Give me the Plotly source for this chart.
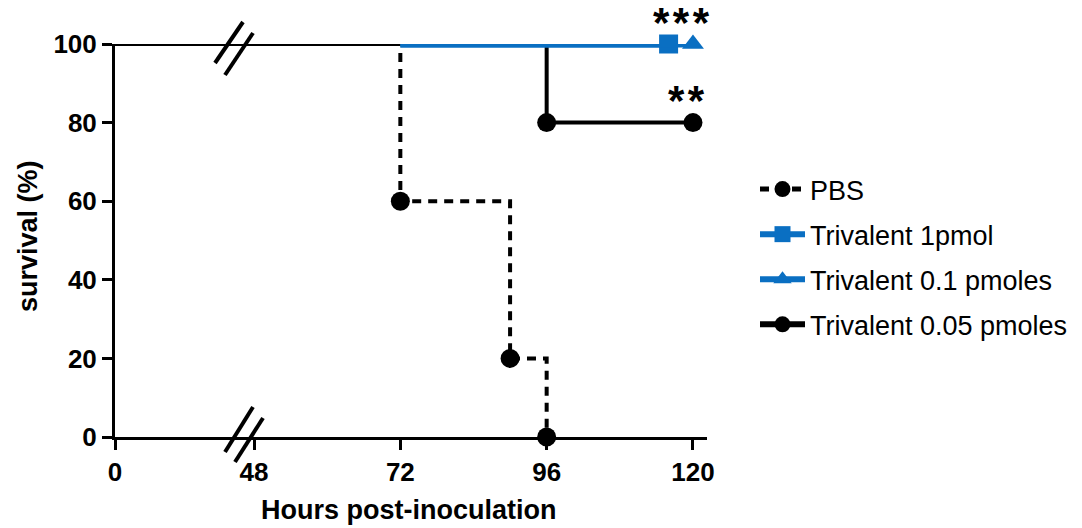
import plotly.graph_objects as go

# ---------------- data ----------------
pbs_t = [0, 72, 72, 90, 90, 96, 96]
pbs_s = [100, 100, 60, 60, 20, 20, 0]
pbs_mt = [72, 90, 96]
pbs_ms = [60, 20, 0]

tri005_t = [0, 96, 96, 120]
tri005_s = [100, 100, 80, 80]
tri005_mt = [96, 120]
tri005_ms = [80, 80]

tri1_t = [72, 116]
tri1_s = [100, 100]
tri1_mt = [116]
tri1_ms = [100]

tri01_t = [72, 120]
tri01_s = [100, 100]
tri01_mt = [120]
tri01_ms = [100]

x_left_ticks = [0]
x_right_ticks = [48, 72, 96, 120]
y_ticks = [0, 20, 40, 60, 80, 100]

BLUE = "#0a6fc2"
BLACK = "#000000"
FONT = "Liberation Sans, Arial, sans-serif"

# ---------------- geometry helpers (pixels -> paper) ----------------
W, H = 1082, 528
L, R, T, B = 115, 707, 44, 437


def px(xp):
    return (xp - L) / (R - L)


def py(yp):
    return (B - yp) / (B - T)


split = px(240)

series = [
    dict(name="PBS", t=pbs_t, s=pbs_s, mt=pbs_mt, ms=pbs_ms, color=BLACK,
         width=4, dash="9px,7px", symbol="circle", lw=5),
    dict(name="Trivalent 0.05 pmoles", t=tri005_t, s=tri005_s, mt=tri005_mt,
         ms=tri005_ms, color=BLACK, width=4, dash="solid", symbol="circle", lw=6),
    dict(name="Trivalent 1pmol", t=tri1_t, s=tri1_s, mt=tri1_mt, ms=tri1_ms,
         color=BLUE, width=7, dash="solid", symbol="square", lw=6),
    dict(name="Trivalent 0.1 pmoles", t=tri01_t, s=tri01_s, mt=tri01_mt,
         ms=tri01_ms, color=BLUE, width=7, dash="solid", symbol="triangle-up", lw=6),
]

fig = go.Figure()

for sr in series:
    for xa in ("x", "x2"):
        fig.add_trace(go.Scatter(
            x=sr["t"], y=sr["s"], xaxis=xa, yaxis="y", mode="lines",
            line=dict(color=sr["color"], width=sr["width"], dash=sr["dash"]),
            showlegend=False, hoverinfo="skip"))
    fig.add_trace(go.Scatter(
        x=sr["mt"], y=sr["ms"], xaxis="x2", yaxis="y", mode="markers",
        marker=dict(color=sr["color"], size=19, symbol=sr["symbol"],
                    line=dict(width=0)),
        cliponaxis=False, showlegend=False, hoverinfo="skip"))

legend_order = ["PBS", "Trivalent 1pmol", "Trivalent 0.1 pmoles", "Trivalent 0.05 pmoles"]
for i, nm in enumerate(legend_order):
    sr = [s for s in series if s["name"] == nm][0]
    fig.add_trace(go.Scatter(
        x=[None], y=[None], xaxis="x2", yaxis="y", mode="lines+markers",
        name=nm, legendgroup=f"g{i}",
        line=dict(color=sr["color"], width=sr["lw"], dash=sr["dash"]),
        marker=dict(color=sr["color"], size=16, symbol=sr["symbol"])))

axis_common = dict(showline=True, linecolor=BLACK, linewidth=3, ticks="outside",
                   ticklen=10, tickwidth=3, tickcolor=BLACK, showgrid=False,
                   zeroline=False,
                   tickfont=dict(family=FONT, size=26, color=BLACK, weight="bold"),
                   fixedrange=True)

fig.update_layout(
    width=W, height=H,
    margin=dict(l=L, r=W - R, t=T, b=H - B, autoexpand=False),
    paper_bgcolor="white", plot_bgcolor="white",
    xaxis=dict(domain=[0, split], range=[0, 20.5], tickvals=x_left_ticks,
               anchor="y", **axis_common),
    xaxis2=dict(domain=[split, 1], range=[45.7, 122.3], tickvals=x_right_ticks,
                anchor="y", **axis_common),
    yaxis=dict(range=[0, 100], tickvals=y_ticks, anchor="x", **axis_common),
    showlegend=True,
    legend=dict(x=px(755), y=py(165), xanchor="left", yanchor="top",
                font=dict(family=FONT, size=27, color=BLACK),
                tracegroupgap=7, bgcolor="rgba(0,0,0,0)", itemwidth=45),
    font=dict(family=FONT, color=BLACK),
)

# axis titles
fig.add_annotation(text="<b>Hours post-inoculation</b>", xref="paper", yref="paper",
                   x=px(408), y=py(510), xanchor="center", yanchor="middle",
                   showarrow=False, font=dict(family=FONT, size=27, color=BLACK))
fig.add_annotation(text="<b>survival (%)</b>", xref="paper", yref="paper",
                   x=px(28), y=py(236), xanchor="center", yanchor="middle",
                   textangle=-90, showarrow=False,
                   font=dict(family=FONT, size=27, color=BLACK))

# significance stars
fig.add_annotation(text="*\u200a*\u200a*", xref="x2", yref="y", x=118.05, y=100, yshift=-4,
                   xanchor="center", yanchor="bottom", showarrow=False,
                   font=dict(family=FONT, size=42, color=BLACK, weight="bold"))
fig.add_annotation(text="*\u200a*", xref="x2", yref="y", x=118.9, y=80, yshift=-3,
                   xanchor="center", yanchor="bottom", showarrow=False,
                   font=dict(family=FONT, size=42, color=BLACK, weight="bold"))

# axis break marks
breaks = [((215, 63), (243, 22)), ((225, 75), (253, 33)),
          ((225, 452), (253, 407)), ((235, 462), (263, 418))]
for (x0, y0), (x1, y1) in breaks:
    fig.add_shape(type="line", xref="paper", yref="paper",
                  x0=px(x0), y0=py(y0), x1=px(x1), y1=py(y1),
                  line=dict(color=BLACK, width=4))

fig.write_html("out.html")
